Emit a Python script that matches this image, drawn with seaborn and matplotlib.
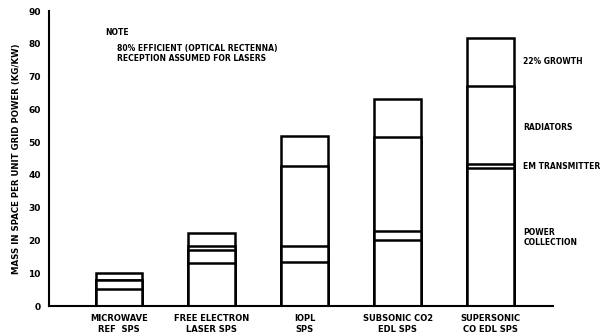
import matplotlib
matplotlib.use("Agg")
import matplotlib.pyplot as plt
import seaborn as sns
import pandas as pd

# bar categories (two-line labels as printed)
categories = ["MICROWAVE\nREF  SPS", "FREE ELECTRON\nLASER SPS", "IOPL\nSPS",
              "SUBSONIC CO2\nEDL SPS", "SUPERSONIC\nCO EDL SPS"]

# cumulative segment tops (kg/kW)
power_collection = [5.2, 13.3, 13.5, 20.3, 42.0]
em_transmitter = [8.0, 17.2, 18.4, 23.0, 43.2]
radiators = [8.0, 18.2, 42.8, 51.6, 67.0]
growth_22 = [10.0, 22.3, 51.9, 63.2, 81.9]

side_labels = ["22% GROWTH", "RADIATORS", "EM TRANSMITTER", "POWER\nCOLLECTION"]
side_label_y = [74.5, 54.5, 42.5, 21.0]

sns.set_style("white")
plt.rcParams['font.family'] = ['DejaVu Sans']
plt.rcParams['font.weight'] = 'bold'
plt.rcParams['text.color'] = 'black'
plt.rcParams['xtick.color'] = 'black'
plt.rcParams['ytick.color'] = 'black'
plt.rcParams['axes.labelcolor'] = 'black'

fig = plt.figure(figsize=(6.13, 3.36), dpi=100)
ax = fig.add_axes([0.080, 0.089, 0.822, 0.878])

# draw from the tallest level down so every boundary shows as a line
for level in [growth_22, radiators, em_transmitter, power_collection]:
    df = pd.DataFrame({"cat": categories, "val": level})
    sns.barplot(data=df, x="cat", y="val", color="white", edgecolor="black",
                linewidth=1.8, width=0.5, saturation=1, ax=ax)

ax.set_xlim(-0.75, 4.67)
ax.set_ylim(0, 90)
ax.set_yticks(range(0, 91, 10))
ax.set_yticks(range(5, 90, 10), minor=True)
ax.tick_params(axis="y", which="major", direction="in", length=5, width=1.2,
               labelsize=6.5, pad=6)
ax.tick_params(axis="y", which="minor", direction="in", length=3, width=1.0)
ax.tick_params(axis="x", length=0, labelsize=6, pad=6)
for lab in ax.get_xticklabels() + ax.get_yticklabels():
    lab.set_fontweight("bold")
ax.set_xlabel("")
ax.set_ylabel("MASS IN SPACE PER UNIT GRID POWER (KG/KW)", fontsize=6.2,
              fontweight="bold", labelpad=5)

sns.despine(ax=ax)
for side in ["left", "bottom"]:
    ax.spines[side].set_linewidth(1.5)
    ax.spines[side].set_color("black")

# note text
ax.text(-0.15, 83.5, "NOTE", fontsize=5.5, fontweight="bold", va="center")
ax.text(-0.02, 77.0, "80% EFFICIENT (OPTICAL RECTENNA)\nRECEPTION ASSUMED FOR LASERS",
        fontsize=5.5, fontweight="bold", va="center", linespacing=1.1)

# segment labels on the right
for txt, yv in zip(side_labels, side_label_y):
    ax.text(4.35, yv, txt, fontsize=5.5, fontweight="bold", va="center",
            linespacing=1.2, clip_on=False)

fig.savefig("out.png", dpi=100)
